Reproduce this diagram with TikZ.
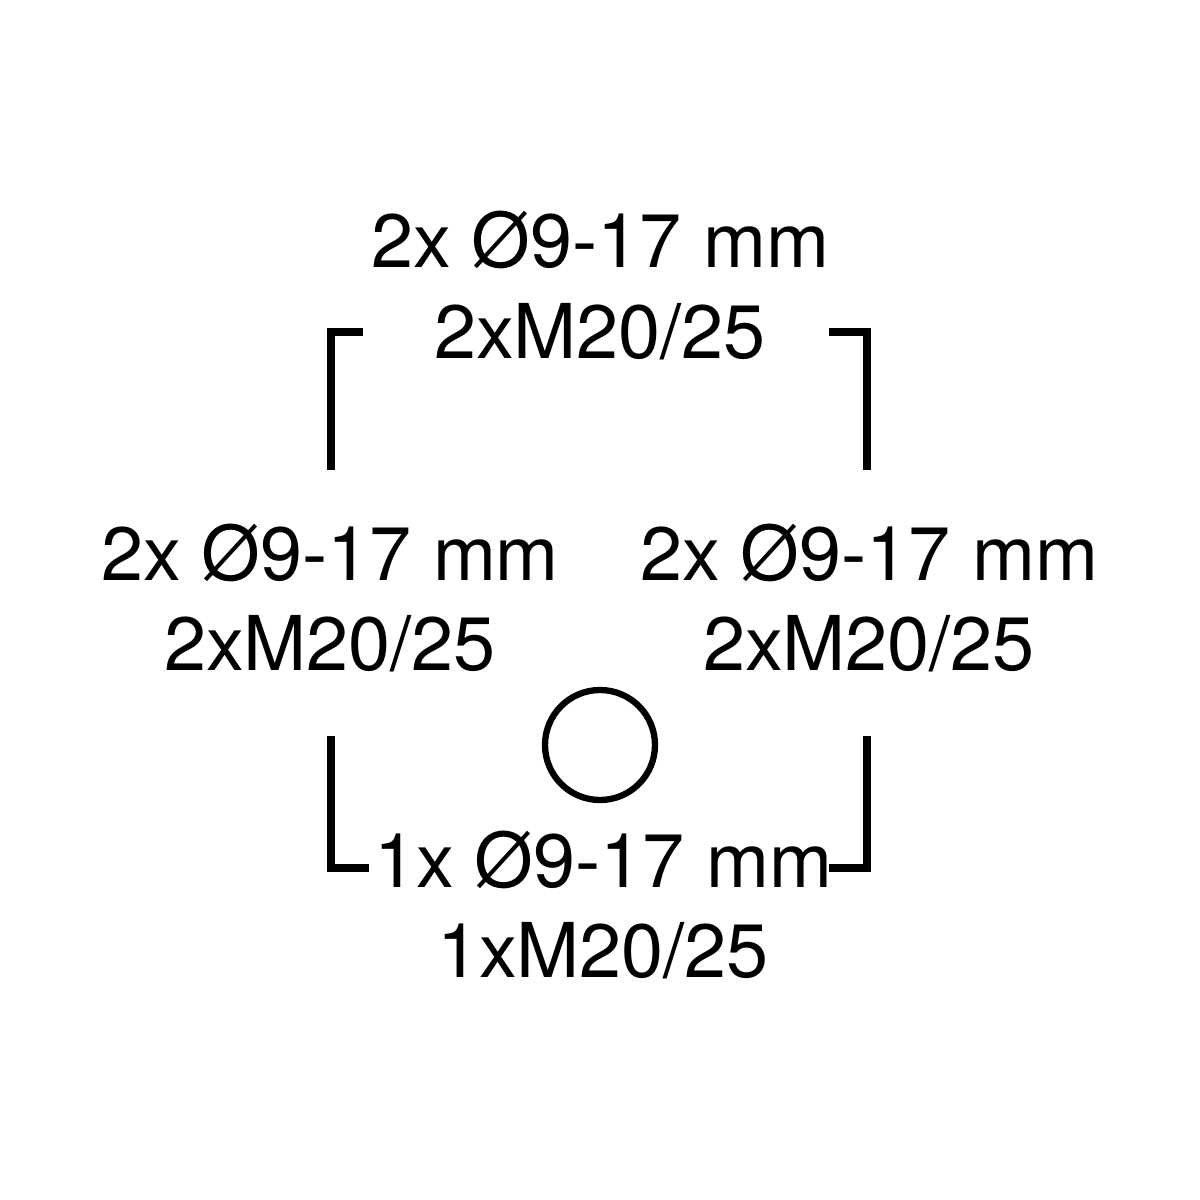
\documentclass[tikz,border=0pt]{standalone}
\usepackage{fontspec}
\setmainfont{TeX Gyre Heros}
\usepackage{tikz}

\begin{document}
\begin{tikzpicture}[x=0.01cm,y=-0.01cm]
\tikzstyle{every node}+=[inner sep=0pt,anchor=base,font=\fontsize{21.5}{25}\selectfont]
\useasboundingbox (0,0) rectangle (1200,1200);
% labels
\node (topa) at (600,267) {2x Ø9-17 mm};
\node (topb) at (600,358) {2xM20/25};
\node (lefta) at (330,580) {2x Ø9-17 mm};
\node (leftb) at (330,670) {2xM20/25};
\node (righta) at (869,580) {2x Ø9-17 mm};
\node (rightb) at (869,670) {2xM20/25};
\node (bota) at (603,887) {1x Ø9-17 mm};
\node (botb) at (603,977) {1xM20/25};
% corner brackets
\draw [black,line width=2pt] (363,332) -- (331,332) -- (331,470);
\draw [black,line width=2pt] (829,332) -- (867,332) -- (867,470);
\draw [black,line width=2pt] (331,736) -- (331,868) -- (369,868);
\draw [black,line width=2pt] (867,736) -- (867,868) -- (829,868);
% hole
\draw [black,line width=1.8pt] (600,745) circle (55);
\end{tikzpicture}
\end{document}
